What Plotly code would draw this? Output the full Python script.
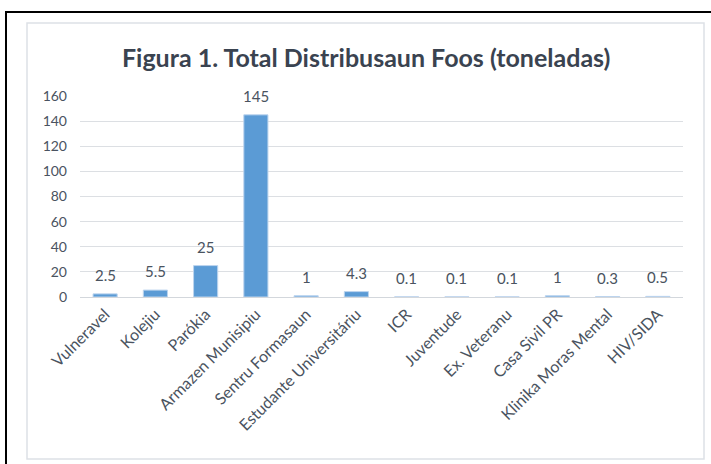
import plotly.graph_objects as go

# Data
categories = [
    "Vulneravel", "Kolejiu", "Parókia", "Armazen Munisipiu",
    "Sentru Formasaun", "Estudante Universitáriu", "ICR", "Juventude",
    "Ex. Veteranu", "Casa Sivil PR", "Klinika Moras Mental", "HIV/SIDA",
]
values = [2.5, 5.5, 25, 145, 1, 4.3, 0.1, 0.1, 0.1, 1, 0.3, 0.5]
value_labels = ["2.5", "5.5", "25", "145", "1", "4.3", "0.1", "0.1", "0.1", "1", "0.3", "0.5"]
y_ticks = [0, 20, 40, 60, 80, 100, 120, 140, 160]

TEXT = "#4a5360"
FONT = "Lato"

# plot area in px: x 80..683, y 96..297 (used to place frame shapes in paper units)
W, H = 711, 464
L, R, T, B = 80, 28, 96, 167
pw, ph = W - L - R, H - T - B


def px_x(px):
    return (px - L) / pw


def px_y(py):
    return (H - B - py) / ph


fig = go.Figure()

fig.add_trace(
    go.Bar(
        x=categories,
        y=values,
        width=0.48,
        marker=dict(color="#5b9bd5", line=dict(color="#bcd4ee", width=1)),
        hoverinfo="x+y",
    )
)

# data labels above bars
for cat, val, lab in zip(categories, values, value_labels):
    fig.add_annotation(
        x=cat, y=val, text=lab, showarrow=False,
        yanchor="middle", yshift=19,
        font=dict(family=FONT, size=15, color=TEXT),
    )

fig.update_layout(
    width=W,
    height=H,
    margin=dict(l=L, r=R, t=T, b=B),
    paper_bgcolor="white",
    plot_bgcolor="white",
    showlegend=False,
    font=dict(family=FONT, color=TEXT),
    title=dict(
        text="<b>Figura 1. Total Distribusaun Foos (toneladas)</b>",
        x=0.515,
        xanchor="center",
        y=1 - 58 / H,
        yanchor="middle",
        font=dict(family=FONT, size=25, color="#3a4350"),
    ),
    xaxis=dict(
        tickangle=-45,
        tickfont=dict(family=FONT, size=16, color=TEXT),
        showgrid=False,
        showline=False,
        ticks="",
        ticklabelstandoff=4,
        automargin=False,
        range=[-0.5, len(categories) - 0.5],
    ),
    yaxis=dict(
        range=[0, 160],
        tickvals=y_ticks,
        tickfont=dict(family=FONT, size=14, color=TEXT),
        gridcolor="#dcdfe3",
        gridwidth=1,
        zeroline=True,
        zerolinecolor="#d3d7dc",
        zerolinewidth=1,
        showline=False,
        ticks="",
        ticklabelstandoff=12,
        automargin=False,
    ),
    shapes=[
        # inner chart frame
        dict(type="rect", xref="paper", yref="paper",
             x0=px_x(27), x1=px_x(704), y0=px_y(459), y1=px_y(23),
             line=dict(color="#dde1e6", width=1.5), layer="below"),
        # outer black border (right and bottom run off the page)
        dict(type="rect", xref="paper", yref="paper",
             x0=px_x(6), x1=px_x(720), y0=px_y(475), y1=px_y(12),
             line=dict(color="black", width=2), layer="below"),
    ],
)

# drop the browser's default 8px body margin so the figure sits at the window origin
fig.write_html(
    "out.html",
    config={"displayModeBar": False},
    post_script="document.body.style.margin='0';",
)
